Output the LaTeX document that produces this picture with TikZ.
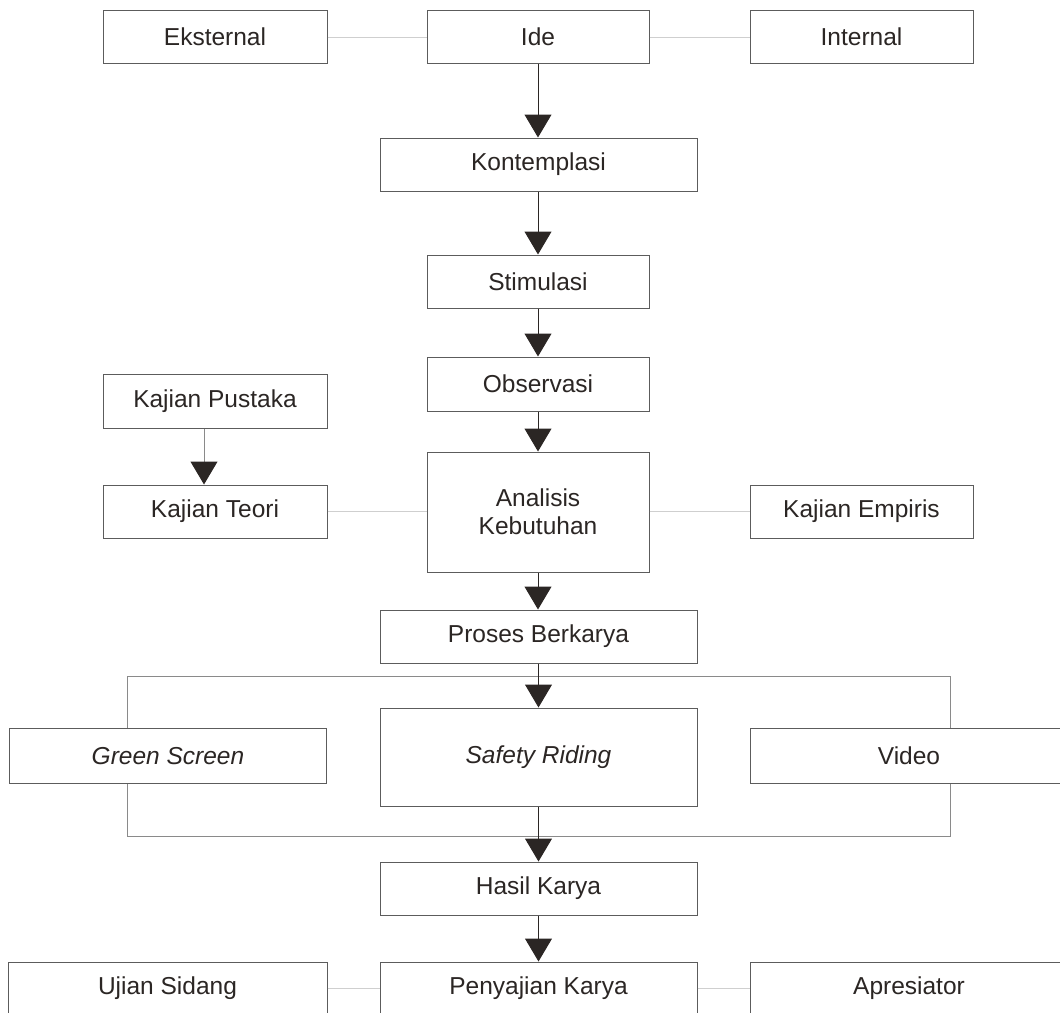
\documentclass[tikz,border=0pt]{standalone}
\usepackage{fontspec}
\setmainfont{Liberation Sans}
\usetikzlibrary{arrows.meta, positioning}
\definecolor{inkdark}{HTML}{2B2624}
\definecolor{boxline}{HTML}{5C5C5C}
\definecolor{sideline}{HTML}{CFCFCF}
\definecolor{bracketline}{HTML}{8A8A8A}

\tikzset{
  box/.style={draw=boxline, line width=1pt, fill=white, text=inkdark,
    minimum height=53pt, inner sep=0pt, align=center,
    font=\fontsize{24.5}{28}\selectfont},
  flow/.style={-{Triangle[width=27pt, length=23pt, color=inkdark]},
    draw=inkdark, line width=1pt},
  side/.style={draw=sideline, line width=1pt},
  bracket/.style={draw=bracketline, line width=1pt}
}

\begin{document}
\begin{tikzpicture}[x=1pt, y=-1pt]
  \useasboundingbox (0,0) rectangle (1060,1012);

  % bracket round the three media boxes
  \coordinate (btl) at (127,676);
  \coordinate (btr) at (950,676);
  \coordinate (bbl) at (127,836);
  \coordinate (bbr) at (950,836);
  \coordinate (pk) at (204,0);

  % top row
  \node[box, minimum width=224pt] (ext) at (215,37) {Eksternal};
  \node[box, minimum width=222pt] (ide) at (538,37) {Ide};
  \node[box, minimum width=223pt] (int) at (861.5,37) {Internal};

  % main column
  \node[box, minimum width=317pt] (kon) at (538.5,164.5) {Kontemplasi};
  \node[box, minimum width=222pt] (sti) at (538,281.5) {Stimulasi};
  \node[box, minimum width=222pt, minimum height=54pt] (obs) at (538,384) {Observasi};
  \node[box, minimum width=224pt, minimum height=54pt] (pus) at (215,401) {Kajian Pustaka};
  \node[box, minimum width=224pt] (teo) at (215,511.5) {Kajian Teori};
  \node[box, minimum width=222pt, minimum height=120pt] (ana) at (538,512) {Analisis\\Kebutuhan};
  \node[box, minimum width=223pt] (emp) at (861.5,511.5) {Kajian Empiris};
  \node[box, minimum width=317pt] (pro) at (538.5,636.5) {Proses Berkarya};

  % media row
  \node[box, minimum width=317pt, minimum height=55pt] (grn) at (168,756) {\itshape Green Screen};
  \node[box, minimum width=317pt, minimum height=98pt] (saf) at (538.5,757) {\itshape Safety Riding};
  \node[box, minimum width=318pt, minimum height=55pt] (vid) at (909,756) {Video};

  % bottom rows
  \node[box, minimum width=317pt] (hsl) at (538.5,888.5) {Hasil Karya};
  \node[box, minimum width=319pt] (uji) at (167.5,988.5) {Ujian Sidang};
  \node[box, minimum width=317pt] (pen) at (538.5,988.5) {Penyajian Karya};
  \node[box, minimum width=318pt] (apr) at (909,988.5) {Apresiator};

  % side links
  \draw[side] (ext) -- (ide);
  \draw[side] (ide) -- (int);
  \draw[side] (teo.east) -- (teo.east -| ana.west);
  \draw[side] (ana.east |- emp) -- (emp.west);
  \draw[side] (uji) -- (pen);
  \draw[side] (pen) -- (apr);

  % bracket
  \draw[bracket] (grn.north -| btl) -- (btl) -- (btr) -- (vid.north -| btr);
  \draw[bracket] (grn.south -| bbl) -- (bbl) -- (bbr) -- (vid.south -| bbr);

  % flow arrows
  \draw[flow] (ide) -- (ide |- kon.north);
  \draw[flow] (sti |- kon.south) -- (sti);
  \draw[flow] (sti) -- (obs);
  \draw[flow] (obs) -- (ana);
  \draw[flow] (ana) -- (ana |- pro.north);
  \draw[flow] (pro) -- (saf);
  \draw[flow] (saf) -- (hsl);
  \draw[flow] (hsl) -- (pen);
  \draw[flow, draw=bracketline] (pus.south -| pk) -- (teo.north -| pk);
\end{tikzpicture}
\end{document}
